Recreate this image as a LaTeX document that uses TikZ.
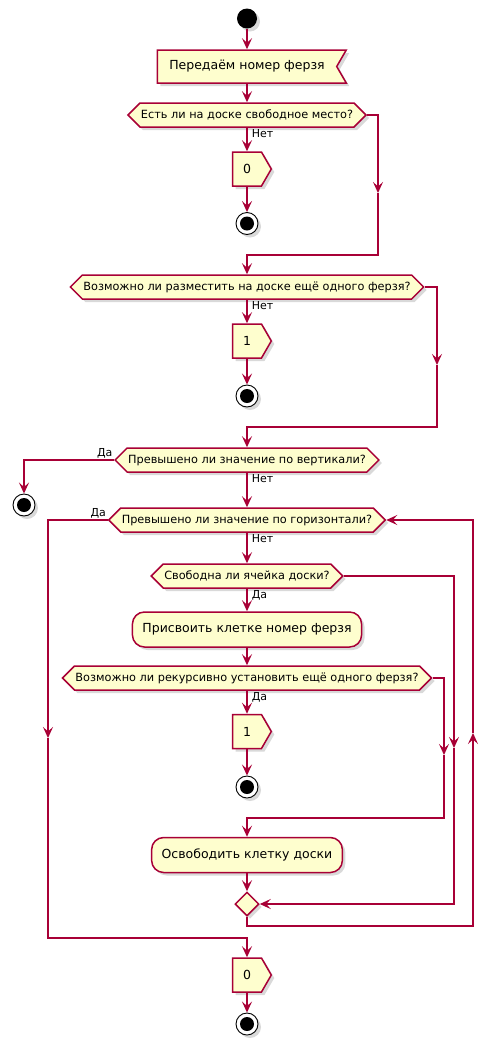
\documentclass[tikz,border=0pt]{standalone}
\usepackage{fontspec}
\setmainfont{DejaVu Sans}
\usetikzlibrary{shapes.symbols,shapes.geometric,arrows.meta,shadows}

\definecolor{umlfill}{HTML}{FEFECE}
\definecolor{umlline}{HTML}{A80036}

\tikzset{
  shade box/.style={drop shadow={shadow xshift=3pt, shadow yshift=-3pt, opacity=0.3}},
  box/.style={draw=umlline, fill=umlfill, line width=1.5pt, shade box},
  actbox/.style={box, rectangle, rounded corners=12pt, minimum height=35pt, inner xsep=10pt, font=\fontsize{12.5}{15}\selectfont},
  askbox/.style={box, signal, signal to=east and west, signal pointer angle=90, minimum height=24pt, inner xsep=1pt, inner ysep=2pt, font=\fontsize{11.3}{13}\selectfont},
  getbox/.style={box, signal, signal to=nowhere, signal from=east, signal pointer angle=120, minimum height=33pt, inner xsep=12pt, font=\fontsize{12.5}{15}\selectfont},
  retbox/.style={box, signal, signal to=east, signal pointer angle=120, minimum height=34pt, inner xsep=10.5pt, font=\fontsize{12.5}{15}\selectfont},
  mergebox/.style={box, diamond, minimum size=24pt, inner sep=0pt},
  startdot/.style={circle, fill=black, minimum size=20pt, inner sep=0pt, shade box},
  stopdot/.style={circle, draw=black, line width=0.9pt, minimum size=22pt, inner sep=0pt, fill=white, shade box,
    path picture={\fill[black] (path picture bounding box.center) circle (7pt);}},
  line/.style={draw=umlline, line width=1.5pt},
  flow/.style={line, -{Stealth[length=11pt, width=10pt, inset=4.5pt]}},
  lbl/.style={font=\fontsize{11}{13}\selectfont, inner sep=1pt}
}

\begin{document}
\begin{tikzpicture}[x=1pt, y=-1pt]
    \useasboundingbox (0,0) rectangle (497,1042);

    % Entry
    \node[startdot] (start) at (247,18.5) {};
    \node[getbox] (recv) at (247,66.5) {Передаём номер ферзя};

    % Free place on the board
    \node[askbox] (askfree) at (247,115) {Есть ли на доске свободное место?};
    \node[retbox] (retA) at (247,169) {0};
    \node[stopdot] (stopA) at (247,223.5) {};

    % One more queen
    \node[askbox] (askmore) at (247,287) {Возможно ли разместить на доске ещё одного ферзя?};
    \node[retbox] (retB) at (247,341) {1};
    \node[stopdot] (stopB) at (247,396) {};

    % Vertical / horizontal limits
    \node[askbox] (askvert) at (247,460) {Превышено ли значение по вертикали?};
    \node[stopdot] (stopC) at (24,505) {};
    \node[askbox] (askhor) at (247,520) {Превышено ли значение по горизонтали?};

    % Loop body
    \node[askbox] (askcell) at (247,576) {Свободна ли ячейка доски?};
    \node[actbox] (setcell) at (247,629.5) {Присвоить клетке номер ферзя};
    \node[askbox] (askrec) at (247,678) {Возможно ли рекурсивно установить ещё одного ферзя?};
    \node[retbox] (retC) at (247,731.5) {1};
    \node[stopdot] (stopD) at (247,787) {};
    \node[actbox] (freecell) at (247,855) {Освободить клетку доски};
    \node[mergebox] (merge) at (247,904) {};

    % Exit
    \node[retbox] (retD) at (247,975) {0};
    \node[stopdot] (stopE) at (247,1024) {};

    % Bends of the side branches
    \coordinate (midA) at (378,193);
    \coordinate (bendA) at (378,255);
    \coordinate (midB) at (437,365);
    \coordinate (bendB) at (437,427);
    \coordinate (midC) at (48,738);
    \coordinate (bendC) at (48,938);
    \coordinate (midD) at (454,748);
    \coordinate (midE) at (444,755);
    \coordinate (bendE) at (444,818);
    \coordinate (bendF) at (473,926);
    \coordinate (midF) at (473,733);

    % Connections
    \draw[flow] (start.south) -- (recv.north);
    \draw[flow] (recv.south) -- (askfree.north);
    \draw[flow] (askfree.south) -- node[lbl, pos=0, anchor=north west, xshift=3pt] {Нет} (retA.north);
    \draw[flow] (retA.south) -- (stopA.north);
    \draw[flow] (askfree.east) -| (midA);
    \draw[flow] (midA) -- (bendA) -| (askmore.north);

    \draw[flow] (askmore.south) -- node[lbl, pos=0, anchor=north west, xshift=3pt] {Нет} (retB.north);
    \draw[flow] (retB.south) -- (stopB.north);
    \draw[flow] (askmore.east) -| (midB);
    \draw[flow] (midB) -- (bendB) -| (askvert.north);

    \draw[flow] (askvert.west) -| node[lbl, pos=0, anchor=south east] {Да} (stopC.north);
    \draw[flow] (askvert.south) -- node[lbl, pos=0, anchor=north west, xshift=3pt] {Нет} (askhor.north);

    \draw[flow] (askhor.west) -| node[lbl, pos=0, anchor=south east] {Да} (midC);
    \draw[flow] (midC) -- (bendC) -| (retD.north);
    \draw[flow] (askhor.south) -- node[lbl, pos=0, anchor=north west, xshift=3pt] {Нет} (askcell.north);

    \draw[flow] (askcell.south) -- node[lbl, pos=0, anchor=north west, xshift=3pt] {Да} (setcell.north);
    \draw[flow] (askcell.east) -| (midD);
    \draw[flow] (midD) |- (merge.east);
    \draw[flow] (setcell.south) -- (askrec.north);
    \draw[flow] (askrec.south) -- node[lbl, pos=0, anchor=north west, xshift=3pt] {Да} (retC.north);
    \draw[flow] (retC.south) -- (stopD.north);
    \draw[flow] (askrec.east) -| (midE);
    \draw[flow] (midE) -- (bendE) -| (freecell.north);
    \draw[flow] (freecell.south) -- (merge.north);
    \draw[flow] (merge.south) |- (bendF) -- (midF);
    \draw[flow] (midF) |- (askhor.east);

    \draw[flow] (retD.south) -- (stopE.north);
\end{tikzpicture}
\end{document}
